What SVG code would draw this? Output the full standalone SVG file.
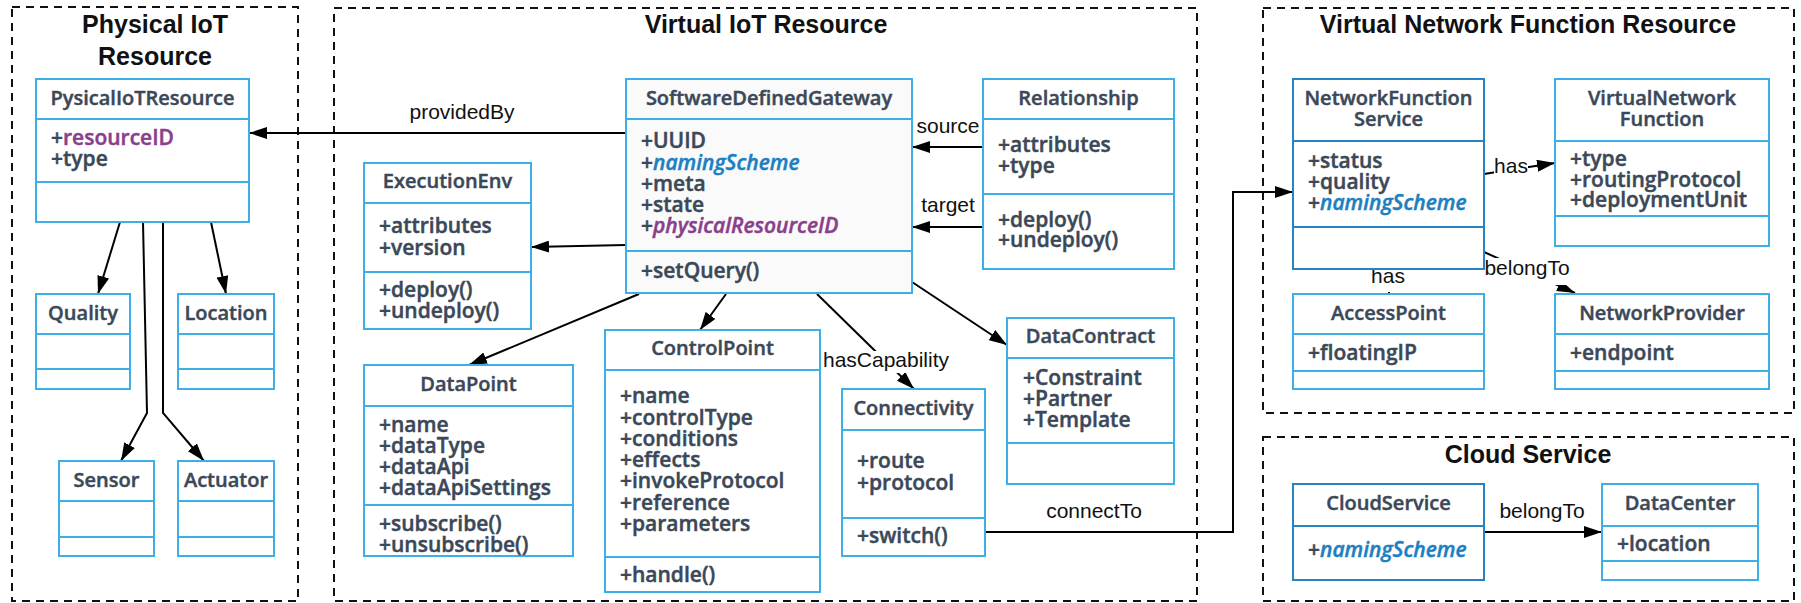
<svg xmlns="http://www.w3.org/2000/svg" width="1801" height="603" viewBox="0 0 1801 603">
<defs>
<style>
.grp{fill:none;stroke:#111;stroke-width:2;stroke-dasharray:8 6}
.gt{font-family:"Liberation Sans",Arial,sans-serif;font-weight:bold;font-size:25px;text-anchor:middle;fill:#111}
.box{fill:#fff;stroke:#3cb0e6;stroke-width:2}
.box2{fill:#fff;stroke:#2684c3;stroke-width:2}
.dv{stroke:#3cb0e6;stroke-width:2}
.dv2{stroke:#2684c3;stroke-width:2}
.t{font-family:"Open Sans","Noto Sans",sans-serif;font-weight:600;font-size:21px;fill:#3b4858;stroke:#3b4858;stroke-width:0.45}
.c{text-anchor:middle;font-size:20px}
.p{fill:#8a3f8c;stroke:#8a3f8c}
.b{fill:#1b7fc2;stroke:#1b7fc2;font-style:italic}
.pi{fill:#8a3f8c;stroke:#8a3f8c;font-style:italic}
.e{stroke:#000;stroke-width:2;fill:none;marker-end:url(#ah)}
.el{font-family:"Liberation Sans",Arial,sans-serif;font-size:21px;fill:#111;text-anchor:middle}
</style>
<marker id="ah" markerUnits="userSpaceOnUse" markerWidth="18" markerHeight="12" refX="18" refY="6" orient="auto">
<path d="M0,0 L18,6 L0,12 z" fill="#000"/>
</marker>
</defs>
<rect width="1801" height="603" fill="#fff"/>

<g id="group-physical">
<rect class="grp" x="12" y="7" width="286" height="594"/>
<text class="gt" x="155" y="33">Physical IoT</text>
<text class="gt" x="155" y="65">Resource</text>
</g>
<g id="group-virtual-iot">
<rect class="grp" x="334" y="8" width="863" height="593"/>
<text class="gt" x="766" y="33">Virtual IoT Resource</text>
</g>
<g id="group-vnf">
<rect class="grp" x="1263" y="8" width="531" height="405"/>
<text class="gt" x="1528" y="33">Virtual Network Function Resource</text>
</g>
<g id="group-cloud">
<rect class="grp" x="1263" y="437" width="531" height="164"/>
<text class="gt" x="1528" y="463">Cloud Service</text>
</g>

<g id="connectors">
<line class="e" x1="626" y1="133" x2="249" y2="133"/>
<line class="e" x1="626" y1="245" x2="531" y2="247"/>
<line class="e" x1="983" y1="147" x2="912" y2="147"/>
<line class="e" x1="983" y1="227" x2="912" y2="227"/>
<line class="e" x1="639" y1="294" x2="469" y2="365"/>
<line class="e" x1="726" y1="294" x2="700" y2="330"/>
<line class="e" x1="817" y1="294" x2="914" y2="389"/>
<line class="e" x1="912" y1="282" x2="1007" y2="345"/>
<polyline class="e" points="985,532 1233,532 1233,192 1293,192"/>
<line class="e" x1="1484" y1="174" x2="1555" y2="163"/>
<line class="e" x1="1484" y1="252" x2="1575" y2="293"/>
<line class="e" x1="1389" y1="269" x2="1389" y2="294"/>
<line class="e" x1="1484" y1="532" x2="1602" y2="532"/>
<line class="e" x1="120" y1="222" x2="98" y2="294"/>
<line class="e" x1="211" y1="222" x2="226" y2="294"/>
<polyline class="e" points="143,222 147,413 121,461"/>
<polyline class="e" points="163,222 163,413 204,461"/>
<text class="el" x="462" y="119">providedBy</text>
<text class="el" x="948" y="133">source</text>
<text class="el" x="948" y="212">target</text>
<rect x="822" y="351" width="128" height="22" fill="#fff"/>
<text class="el" x="886" y="367">hasCapability</text>
<text class="el" x="1094" y="518">connectTo</text>
<rect x="1494" y="157" width="34" height="22" fill="#fff"/>
<text class="el" x="1511" y="173">has</text>
<rect x="1485" y="258" width="86" height="27" fill="#fff"/>
<text class="el" x="1527" y="275">belongTo</text>
<rect x="1369" y="268" width="38" height="24" fill="#fff"/>
<text class="el" x="1388" y="283">has</text>
<text class="el" x="1542" y="518">belongTo</text>
</g>

<g id="PysicalIoTResource">
<rect class="box" x="36" y="79" width="213" height="143"/>
<line class="dv" x1="36" y1="119" x2="249" y2="119"/>
<line class="dv" x1="36" y1="182" x2="249" y2="182"/>
<text class="t c" x="142.5" y="105">PysicalIoTResource</text>
<text class="t" x="51" y="145">+<tspan class="p">resourceID</tspan></text>
<text class="t" x="51" y="166">+type</text>
</g>
<g id="Quality">
<rect class="box" x="36" y="294" width="94" height="95"/>
<line class="dv" x1="36" y1="334" x2="130" y2="334"/>
<line class="dv" x1="36" y1="369" x2="130" y2="369"/>
<text class="t c" x="83" y="320">Quality</text>
</g>
<g id="Location">
<rect class="box" x="178" y="294" width="96" height="95"/>
<line class="dv" x1="178" y1="334" x2="274" y2="334"/>
<line class="dv" x1="178" y1="369" x2="274" y2="369"/>
<text class="t c" x="226" y="320">Location</text>
</g>
<g id="Sensor">
<rect class="box" x="59" y="461" width="95" height="95"/>
<line class="dv" x1="59" y1="501" x2="154" y2="501"/>
<line class="dv" x1="59" y1="537" x2="154" y2="537"/>
<text class="t c" x="106.5" y="487">Sensor</text>
</g>
<g id="Actuator">
<rect class="box" x="178" y="461" width="96" height="95"/>
<line class="dv" x1="178" y1="501" x2="274" y2="501"/>
<line class="dv" x1="178" y1="537" x2="274" y2="537"/>
<text class="t c" x="226" y="487">Actuator</text>
</g>

<g id="SoftwareDefinedGateway">
<rect class="box" x="626" y="79" width="286" height="214" style="fill:#fafafa"/>
<line class="dv" x1="626" y1="119" x2="912" y2="119"/>
<line class="dv" x1="626" y1="251" x2="912" y2="251"/>
<text class="t c" x="769" y="105">SoftwareDefinedGateway</text>
<text class="t" x="641" y="148">+UUID</text>
<text class="t" x="641" y="170">+<tspan class="b">namingScheme</tspan></text>
<text class="t" x="641" y="191">+meta</text>
<text class="t" x="641" y="212">+state</text>
<text class="t" x="641" y="233">+<tspan class="pi">physicalResourceID</tspan></text>
<text class="t" x="641" y="278">+setQuery()</text>
</g>
<g id="ExecutionEnv">
<rect class="box" x="364" y="163" width="167" height="166"/>
<line class="dv" x1="364" y1="203" x2="531" y2="203"/>
<line class="dv" x1="364" y1="272" x2="531" y2="272"/>
<text class="t c" x="447.5" y="188">ExecutionEnv</text>
<text class="t" x="379" y="233">+attributes</text>
<text class="t" x="379" y="255">+version</text>
<text class="t" x="379" y="297">+deploy()</text>
<text class="t" x="379" y="318">+undeploy()</text>
</g>
<g id="DataPoint">
<rect class="box" x="364" y="365" width="209" height="191"/>
<line class="dv" x1="364" y1="406" x2="573" y2="406"/>
<line class="dv" x1="364" y1="505" x2="573" y2="505"/>
<text class="t c" x="468.5" y="391">DataPoint</text>
<text class="t" x="379" y="432">+name</text>
<text class="t" x="379" y="453">+dataType</text>
<text class="t" x="379" y="474">+dataApi</text>
<text class="t" x="379" y="495">+dataApiSettings</text>
<text class="t" x="379" y="531">+subscribe()</text>
<text class="t" x="379" y="552">+unsubscribe()</text>
</g>
<g id="ControlPoint">
<rect class="box" x="605" y="330" width="215" height="262"/>
<line class="dv" x1="605" y1="370" x2="820" y2="370"/>
<line class="dv" x1="605" y1="557" x2="820" y2="557"/>
<text class="t c" x="712.5" y="355">ControlPoint</text>
<text class="t" x="620" y="403">+name</text>
<text class="t" x="620" y="425">+controlType</text>
<text class="t" x="620" y="446">+conditions</text>
<text class="t" x="620" y="467">+effects</text>
<text class="t" x="620" y="488">+invokeProtocol</text>
<text class="t" x="620" y="510">+reference</text>
<text class="t" x="620" y="531">+parameters</text>
<text class="t" x="620" y="582">+handle()</text>
</g>
<g id="Connectivity">
<rect class="box" x="842" y="389" width="143" height="167"/>
<line class="dv" x1="842" y1="430" x2="985" y2="430"/>
<line class="dv" x1="842" y1="518" x2="985" y2="518"/>
<text class="t c" x="913.5" y="415">Connectivity</text>
<text class="t" x="857" y="468">+route</text>
<text class="t" x="857" y="490">+protocol</text>
<text class="t" x="857" y="543">+switch()</text>
</g>
<g id="Relationship">
<rect class="box" x="983" y="79" width="191" height="190"/>
<line class="dv" x1="983" y1="119" x2="1174" y2="119"/>
<line class="dv" x1="983" y1="194" x2="1174" y2="194"/>
<text class="t c" x="1078.5" y="105">Relationship</text>
<text class="t" x="998" y="152">+attributes</text>
<text class="t" x="998" y="173">+type</text>
<text class="t" x="998" y="227">+deploy()</text>
<text class="t" x="998" y="247">+undeploy()</text>
</g>
<g id="DataContract">
<rect class="box" x="1007" y="318" width="167" height="166"/>
<line class="dv" x1="1007" y1="358" x2="1174" y2="358"/>
<line class="dv" x1="1007" y1="443" x2="1174" y2="443"/>
<text class="t c" x="1090.5" y="343">DataContract</text>
<text class="t" x="1023" y="385">+Constraint</text>
<text class="t" x="1023" y="406">+Partner</text>
<text class="t" x="1023" y="427">+Template</text>
</g>

<g id="NetworkFunctionService">
<rect class="box2" x="1293" y="79" width="191" height="190"/>
<line class="dv2" x1="1293" y1="141" x2="1484" y2="141"/>
<line class="dv2" x1="1293" y1="227" x2="1484" y2="227"/>
<text class="t c" x="1388.5" y="105">NetworkFunction</text>
<text class="t c" x="1388.5" y="126">Service</text>
<text class="t" x="1308" y="168">+status</text>
<text class="t" x="1308" y="189">+quality</text>
<text class="t" x="1308" y="210">+<tspan class="b">namingScheme</tspan></text>
</g>
<g id="VirtualNetworkFunction">
<rect class="box" x="1555" y="79" width="214" height="167"/>
<line class="dv" x1="1555" y1="141" x2="1769" y2="141"/>
<line class="dv" x1="1555" y1="216" x2="1769" y2="216"/>
<text class="t c" x="1662" y="105">VirtualNetwork</text>
<text class="t c" x="1662" y="126">Function</text>
<text class="t" x="1570" y="166">+type</text>
<text class="t" x="1570" y="187">+routingProtocol</text>
<text class="t" x="1570" y="207">+deploymentUnit</text>
</g>
<g id="AccessPoint">
<rect class="box" x="1293" y="294" width="191" height="95"/>
<line class="dv" x1="1293" y1="334" x2="1484" y2="334"/>
<line class="dv" x1="1293" y1="371" x2="1484" y2="371"/>
<text class="t c" x="1388.5" y="320">AccessPoint</text>
<text class="t" x="1308" y="360">+floatingIP</text>
</g>
<g id="NetworkProvider">
<rect class="box" x="1555" y="294" width="214" height="95"/>
<line class="dv" x1="1555" y1="334" x2="1769" y2="334"/>
<line class="dv" x1="1555" y1="371" x2="1769" y2="371"/>
<text class="t c" x="1662" y="320">NetworkProvider</text>
<text class="t" x="1570" y="360">+endpoint</text>
</g>
<g id="CloudService">
<rect class="box2" x="1293" y="484" width="191" height="96"/>
<line class="dv2" x1="1293" y1="526" x2="1484" y2="526"/>
<text class="t c" x="1388.5" y="510">CloudService</text>
<text class="t" x="1308" y="557">+<tspan class="b">namingScheme</tspan></text>
</g>
<g id="DataCenter">
<rect class="box" x="1602" y="484" width="156" height="96"/>
<line class="dv" x1="1602" y1="526" x2="1758" y2="526"/>
<line class="dv" x1="1602" y1="561" x2="1758" y2="561"/>
<text class="t c" x="1680" y="510">DataCenter</text>
<text class="t" x="1617" y="551">+location</text>
</g>
</svg>
